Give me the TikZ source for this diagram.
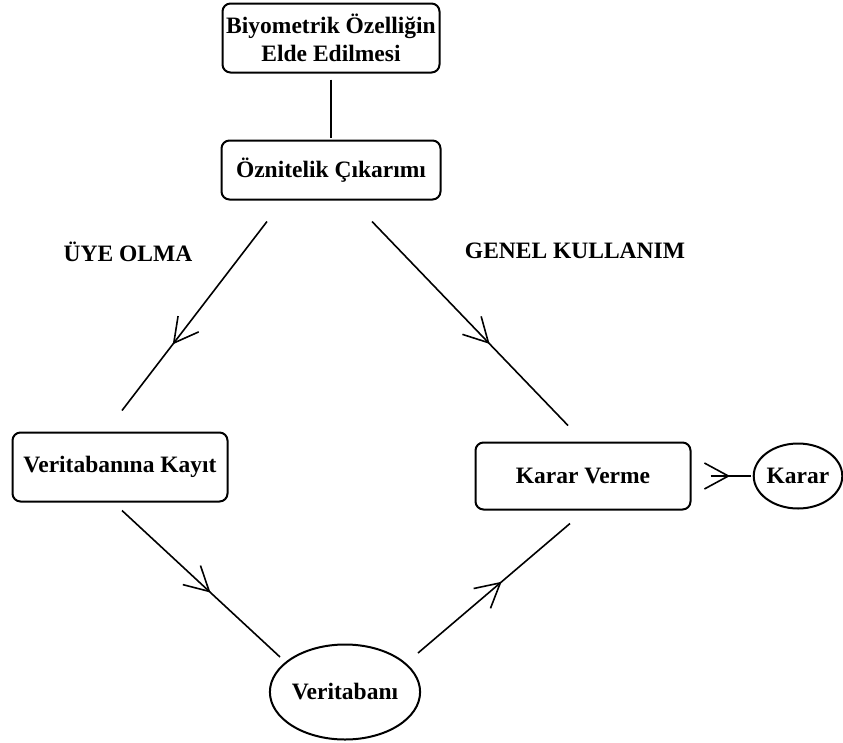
\documentclass[tikz,border=0pt]{standalone}
\usepackage{fontspec}
\setmainfont{Liberation Serif}
\usetikzlibrary{shapes.geometric,arrows.meta,decorations.markings}

\begin{document}
\begin{tikzpicture}[x=1pt,y=-1pt]
\tikzstyle{yazi} = [font=\bfseries\fontsize{23.5}{28}\selectfont] %yazi tipi
\tikzstyle{kutu} = [yazi,draw,line width=2pt,rounded corners=8pt,align=center,inner sep=0pt]
\tikzstyle{oval} = [yazi,draw,line width=2pt,ellipse,inner sep=0pt]
\tikzstyle{cizgi} = [line width=1.6pt]
\tikzset{okorta/.style={decoration={markings,mark=at position #1 with
  {\arrow{Straight Barb[length=24pt,width=26pt,line width=1.6pt]}}},postaction={decorate}}}

\useasboundingbox (0,0) rectangle (843,742);

%kutular
\draw(331,38)node[kutu,minimum width=217pt,minimum height=69pt](bio){Biyometrik Özelliğin\\Elde Edilmesi};
\draw(331,170)node[kutu,minimum width=219pt,minimum height=59pt](oz){Öznitelik Çıkarımı};
\draw(120,467)node[kutu,minimum width=215pt,minimum height=69pt](kayit){Veritabanına Kayıt};
\draw(583,476)node[kutu,minimum width=215pt,minimum height=67pt](kv){Karar Verme};

%ovaller
\draw(345,692)node[oval,minimum width=146pt,minimum height=95pt](vt){Veritabanı};
\draw(798,476)node[oval,minimum width=86pt,minimum height=65pt](karar){Karar};

%etiketler
\draw(128,252)node[yazi](uye){ÜYE OLMA};
\draw(575,251)node[yazi](genel){GENEL KULLANIM};

%baglantilar
\draw[cizgi,shorten <=6pt,shorten >=2pt] (bio.south)--(oz.north);
\draw[cizgi,okorta=0.65] ([shift={(-64,21)}]oz.south)--([shift={(2,-21)}]kayit.north);
\draw[cizgi,okorta=0.6] ([shift={(41,21)}]oz.south)--([shift={(-15,-16)}]kv.north);
\draw[cizgi,okorta=0.56] ([shift={(2,8)}]kayit.south)--([shift={(-65,-35)}]vt.center);
\draw[cizgi,okorta=0.55] ([shift={(73,-39)}]vt.center)--([shift={(-13,13)}]kv.south);
\draw[cizgi,shorten <=19pt,shorten >=2pt,okorta=0.63] (kv.east)--(karar.west);
\end{tikzpicture}
\end{document}
